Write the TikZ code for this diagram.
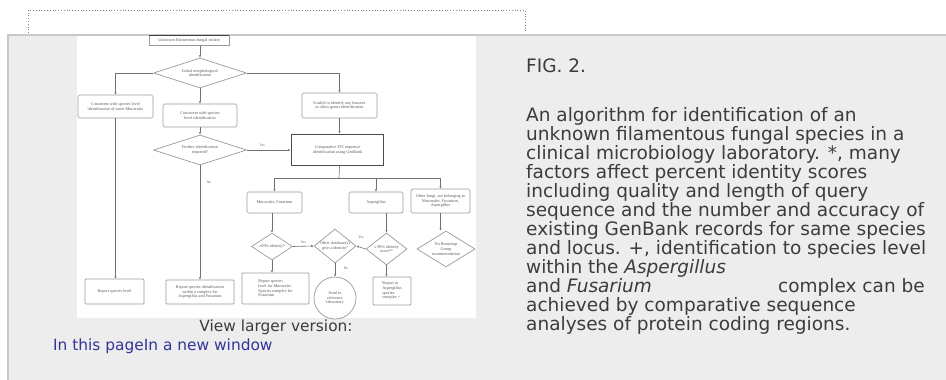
\documentclass[tikz,border=0pt]{standalone}
\usepackage{fontspec}
\setmainfont{DejaVu Sans}
\newfontfamily\chartfont{Liberation Serif}
\usetikzlibrary{arrows.meta,shapes.geometric,calc}
\definecolor{panel}{HTML}{EDEDED}
\definecolor{panelborder}{HTML}{C8C8C8}
\definecolor{captxt}{HTML}{3C3C3C}
\definecolor{linkblue}{HTML}{333399}
\definecolor{boxc}{HTML}{999999}
\definecolor{linec}{HTML}{707070}
\definecolor{ctxt}{HTML}{5A5A5A}
\tikzset{
  chart/.style={font=\chartfont\fontsize{4.2}{4.7}\selectfont, text=ctxt, align=center, inner sep=0.5pt},
  fbox/.style={chart, draw=boxc, rounded corners=1.5pt, fill=white, line width=0.7pt},
  dbox/.style={draw=boxc, diamond, fill=white, line width=0.7pt, inner sep=0pt},
  dtext/.style={label={[chart]center:#1}},
  cbox/.style={chart, draw=boxc, circle, fill=white, line width=0.7pt},
  arr/.style={draw=linec, line width=0.6pt, -{Latex[length=2.4pt,width=2.4pt]}},
  ln/.style={draw=linec, line width=0.6pt},
  lab/.style={chart, font=\chartfont\fontsize{3.6}{4}\selectfont},
  captext/.style={anchor=base west, inner sep=0pt, text=captxt, font=\fontsize{18.5}{19}\selectfont},
}
\begin{document}
\begin{tikzpicture}[x=1pt,y=-1pt]
\useasboundingbox (0,0) rectangle (946,380);
\fill[white] (0,0) rectangle (946,380);
\fill[panel] (8,35) rectangle (946,380);
\draw[panelborder, line width=1.3pt] (8,380) -- (8,35) -- (946,35);
\draw[gray, dotted, line width=0.8pt] (28,33) -- (28,10) -- (525,10) -- (525,33);
\fill[white] (77,36) rectangle (476,318);

% flowchart nodes
\node[fbox, rounded corners=0pt, minimum width=80pt, minimum height=10pt] (top) at (189,40.5) {Unknown filamentous fungal isolate};
\draw[black!75, line width=1.2pt] (top.north west) -- (top.north east);
\node[dbox, minimum width=93pt, minimum height=30pt, dtext={Initial morphological\\identification}] (d1) at (200,73) {};
\node[fbox, minimum width=75pt, minimum height=23pt] (L1) at (115.5,106.5) {Consistent with species level\\identification of some Mucorales};
\node[fbox, minimum width=74pt, minimum height=23pt] (M1) at (200,115.5) {Consistent with species\\level identification};
\node[fbox, minimum width=75pt, minimum height=25pt] (R1) at (339.5,105.5) {Unable to identify any features\\or allow genus identification};
\node[dbox, minimum width=93pt, minimum height=30pt, dtext={Further identification\\required?}] (d2) at (200,150) {};
\node[chart, draw=black!70, fill=white, line width=1.6pt, minimum width=92pt, minimum height=31pt] (B) at (337.5,150) {Comparative ITS sequence\\identification using GenBank};
\node[fbox, rounded corners=0.8pt, minimum width=59pt, minimum height=25pt] (L2) at (114.5,291.5) {Report species level};
\node[fbox, rounded corners=0.8pt, minimum width=68pt, minimum height=24pt] (M2) at (200,292) {Report species identification\\within a complex for\\Aspergillus and Fusarium};
\node[fbox, minimum width=55pt, minimum height=21pt] (C1) at (274.5,202.5) {Mucorales, Fusarium};
\node[fbox, minimum width=54pt, minimum height=21pt] (C2) at (376,202.5) {Aspergillus};
\node[fbox, minimum width=59pt, minimum height=24pt] (C3) at (440.5,201) {Other fungi, not belonging to\\Mucorales, Fusarium,\\Aspergillus};
\node[dbox, minimum width=41pt, minimum height=27pt, dtext={≥99\% identity?}] (d3) at (272,246.5) {};
\node[dbox, minimum width=42pt, minimum height=34pt, dtext={Other database(s)\\give a identity?}] (d4) at (335,246) {};
\node[dbox, minimum width=41pt, minimum height=32pt, dtext={≥ 99\% identity\\score?*}] (d5) at (386.5,249) {};
\node[dbox, minimum width=58pt, minimum height=36pt, dtext={No Bootstrap\\Group\\recommendation}] (d6) at (446,249) {};
\node[fbox, align=left, rounded corners=0.8pt, minimum width=67pt, minimum height=31pt] (R3) at (275.5,288.5) {Report species\\level for Mucorales\\Species complex for\\Fusarium};
\node[cbox, minimum size=42pt] (circ) at (335,298) {Send to\\reference\\laboratory};
\node[fbox, align=left, rounded corners=0.8pt, minimum width=38pt, minimum height=28pt] (R5) at (392,291) {Report as\\Aspergillus\\species\\complex +};

% connectors
\draw[arr] (top.south -| d1.north) -- (d1.north);
\draw[arr] (d1.west) -| (L1.north);
\draw[arr] (d1.south) -- (M1.north);
\draw[arr] (d1.east) -| (R1.north);
\draw[arr] (R1.south) -- (R1.south |- B.north);
\draw[arr] (M1.south) -- (d2.north);
\draw[arr] (d2.east) -- (d2.east -| B.west) node[lab, pos=0.35, above=3pt] {Yes};
\draw[arr] (d2.south) -- (M2.north) node[lab, pos=0.15, right=6pt] {No};
\draw[arr] (L1.south) -- (L1.south |- L2.north);
\coordinate (j) at (339,178);
\draw[ln] (R1.south |- B.south) -- (j);
\draw[ln] (C1.north |- j) -- (C3.north |- j);
\draw[arr] (C1.north |- j) -- (C1.north);
\draw[arr] (C2.north |- j) -- (C2.north);
\draw[arr] (C3.north |- j) -- (C3.north);
\draw[arr] (d3.north |- C1.south) -- (d3.north);
\draw[arr] (d5.north |- C2.south) -- (d5.north);
\draw[arr] (C3.south) -- (C3.south |- d6.north);
\draw[arr] (d3.east) -- (d4.west) node[lab, midway, above=2pt] {Yes};
\draw[arr] (d5.west) -- (d4.east) node[lab, midway, above=8pt] {Yes};
\draw[arr] (d3.south) -- (d3.south |- R3.north);
\draw[arr] (d4.south) -- (circ.north) node[lab, pos=0.4, right=8pt] {No};
\draw[arr] (d5.south) -- (d5.south |- R5.north);

% captions
\node[anchor=base, inner sep=0pt, text=captxt, font=\fontsize{15.4}{17}\selectfont] (vl) at (276,331.5) {View larger version:};
\node[anchor=base west, inner sep=0pt, text=linkblue, font=\fontsize{15.4}{17}\selectfont] (lk) at (53,350) {In this pageIn a new window};

\node[captext] (f) at (526,72.5) {FIG. 2.};
\node[captext] (t1) at (526,121) {An algorithm for identification of an};
\node[captext] (t2) at (526,140) {unknown filamentous fungal species in a};
\node[captext] (t3) at (526,159) {clinical microbiology laboratory. *, many};
\node[captext] (t4) at (526,178) {factors affect percent identity scores};
\node[captext] (t5) at (526,197) {including quality and length of query};
\node[captext] (t6) at (526,216) {sequence and the number and accuracy of};
\node[captext] (t7) at (526,235) {existing GenBank records for same species};
\node[captext] (t8) at (526,254) {and locus. +, identification to species level};
\node[captext] (t9) at (526,273) {within the \textit{Aspergillus}};
\node[captext] (t10) at (526,292) {and \textit{Fusarium}};
\node[captext] (t10b) at (778,292) {complex can be};
\node[captext] (t11) at (526,311) {achieved by comparative sequence};
\node[captext] (t12) at (526,330) {analyses of protein coding regions.};
\end{tikzpicture}
\end{document}
